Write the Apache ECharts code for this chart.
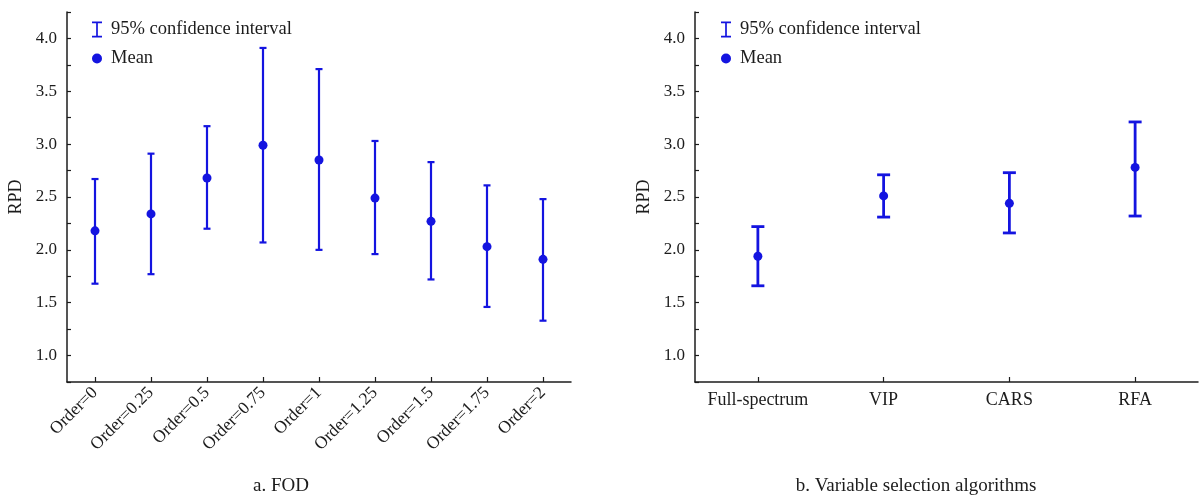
<!DOCTYPE html>
<html>
<head>
<meta charset="utf-8">
<script src="https://cdn.jsdelivr.net/npm/echarts@6/dist/echarts.min.js"></script>
<style>
  html, body { margin: 0; padding: 0; background: #ffffff; }
  #chart { width: 1200px; height: 495px; }
</style>
</head>
<body>
<div id="chart"></div>
<script>
// Panel a: fractional order derivative (FOD)
const orderCats = ['Order=0', 'Order=0.25', 'Order=0.5', 'Order=0.75', 'Order=1',
                   'Order=1.25', 'Order=1.5', 'Order=1.75', 'Order=2'];
const orderMean = [2.18, 2.34, 2.68, 2.99, 2.85, 2.49, 2.27, 2.03, 1.91];
const orderLow  = [1.68, 1.77, 2.20, 2.07, 2.00, 1.96, 1.72, 1.46, 1.33];
const orderHigh = [2.67, 2.91, 3.17, 3.91, 3.71, 3.03, 2.83, 2.61, 2.48];

// Panel b: variable selection algorithms
const algoCats = ['Full-spectrum', 'VIP', 'CARS', 'RFA'];
const algoMean = [1.94, 2.51, 2.44, 2.78];
const algoLow  = [1.66, 2.31, 2.16, 2.32];
const algoHigh = [2.22, 2.71, 2.73, 3.21];

// Shared RPD scale
const rpdMin = 0.75;
const rpdMax = 4.25;
const rpdStep = 0.25;

const captions = ['a. FOD', 'b. Variable selection algorithms'];
const ciName = '95% confidence interval';
const meanName = 'Mean';

const SERIF = '"Liberation Serif", "Times New Roman", serif';
const INK = '#1c1c1c';
const BLUE = '#1414e0';
const IBEAM = 'path://M0,0H10V1.7H5.85V14.3H10V16H0V14.3H4.15V1.7H0Z';

function yAxisFor(gridIndex) {
  return {
    type: 'value', gridIndex,
    min: rpdMin, max: rpdMax, interval: rpdStep,
    name: 'RPD', nameLocation: 'middle', nameGap: 42,
    nameTextStyle: { fontFamily: SERIF, fontSize: 18, color: INK },
    axisLine: { show: true, lineStyle: { color: INK, width: 1.5 } },
    axisTick: { show: true, inside: true, length: 4, lineStyle: { color: INK, width: 1.2 } },
    axisLabel: {
      fontFamily: SERIF, fontSize: 17, color: INK, margin: 10,
      formatter: v => (Math.abs(v * 2 - Math.round(v * 2)) < 1e-6 ? v.toFixed(1) : '')
    },
    splitLine: { show: false }
  };
}

function xAxisFor(gridIndex, cats, rotate, margin, size) {
  return {
    type: 'category', gridIndex, data: cats, boundaryGap: true,
    axisLine: { show: true, lineStyle: { color: INK, width: 1.5 } },
    axisTick: { show: true, inside: true, length: 5, alignWithLabel: true,
                lineStyle: { color: INK, width: 1.2 } },
    axisLabel: { fontFamily: SERIF, fontSize: size, color: INK, rotate, margin, interval: 0 },
    splitLine: { show: false }
  };
}

function errorBars(axisIndex, low, high, capHalf, width) {
  return {
    type: 'custom', name: ciName,
    xAxisIndex: axisIndex, yAxisIndex: axisIndex,
    data: low.map((l, i) => [i, l, high[i]]),
    encode: { x: 0, y: [1, 2] },
    itemStyle: { color: BLUE },
    z: 2,
    renderItem(params, api) {
      const lo = api.coord([api.value(0), api.value(1)]);
      const hi = api.coord([api.value(0), api.value(2)]);
      const st = { stroke: BLUE, lineWidth: width, fill: null };
      return {
        type: 'group',
        children: [
          { type: 'line', shape: { x1: hi[0], y1: hi[1], x2: lo[0], y2: lo[1] }, style: st },
          { type: 'line', shape: { x1: hi[0] - capHalf, y1: hi[1], x2: hi[0] + capHalf, y2: hi[1] }, style: st },
          { type: 'line', shape: { x1: lo[0] - capHalf, y1: lo[1], x2: lo[0] + capHalf, y2: lo[1] }, style: st }
        ]
      };
    }
  };
}

function means(axisIndex, values, size) {
  return {
    type: 'scatter', name: meanName,
    xAxisIndex: axisIndex, yAxisIndex: axisIndex,
    data: values.map((v, i) => [i, v]),
    symbol: 'circle', symbolSize: size,
    itemStyle: { color: BLUE, opacity: 1 },
    z: 3
  };
}

function legendAt(left) {
  return {
    left, top: 20, orient: 'vertical', padding: 0,
    itemWidth: 10, itemHeight: 16, itemGap: 10,
    selectedMode: false,
    textStyle: { fontFamily: SERIF, fontSize: 18.5, color: INK, padding: [0, 0, 0, 4] },
    data: [
      { name: ciName, icon: IBEAM, itemStyle: { color: BLUE } },
      { name: meanName, icon: 'circle', itemStyle: { color: BLUE } }
    ]
  };
}

const chart = echarts.init(document.getElementById('chart'), null, { renderer: 'canvas' });
chart.setOption({
  backgroundColor: '#ffffff',
  animation: false,
  grid: [
    { left: 67, top: 12, width: 504, height: 370 },
    { left: 695, top: 12, width: 503, height: 370 }
  ],
  xAxis: [
    xAxisFor(0, orderCats, 45, 8, 17.5),
    xAxisFor(1, algoCats, 0, 9, 18)
  ],
  yAxis: [yAxisFor(0), yAxisFor(1)],
  legend: [legendAt(92), legendAt(721)],
  series: [
    errorBars(0, orderLow, orderHigh, 3.5, 2.2),
    means(0, orderMean, 9),
    errorBars(1, algoLow, algoHigh, 6.5, 2.8),
    means(1, algoMean, 9)
  ],
  graphic: [
    { type: 'text', x: 281, y: 486,
      style: { text: captions[0], textAlign: 'center', textVerticalAlign: 'middle',
               fontFamily: SERIF, fontSize: 19, fill: INK } },
    { type: 'text', x: 916, y: 486,
      style: { text: captions[1], textAlign: 'center', textVerticalAlign: 'middle',
               fontFamily: SERIF, fontSize: 19, fill: INK } }
  ]
});
</script>
</body>
</html>
